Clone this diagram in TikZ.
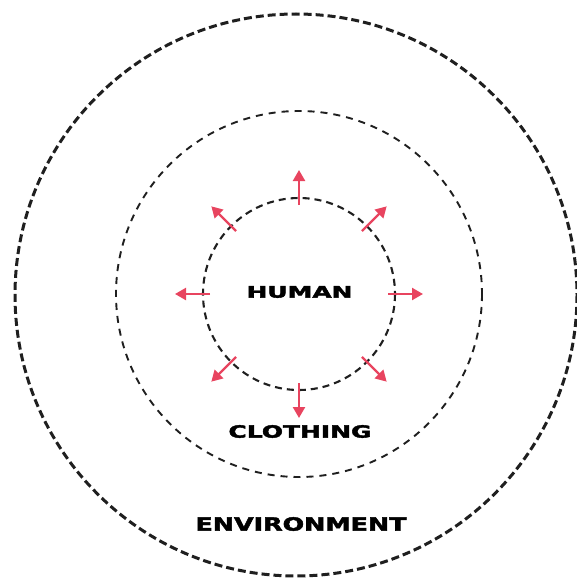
\documentclass[tikz,border=0pt]{standalone}
\usepackage{fontspec}
\setmainfont{DejaVu Sans}
\newfontfamily\heavyfont{DejaVu Sans}[BoldFont={DejaVu Sans Bold},BoldFeatures={FakeBold=2.2}]
\usetikzlibrary{arrows.meta,calc}
\definecolor{arrowred}{HTML}{E8445F}
\begin{document}
\begin{tikzpicture}[x=1pt,y=-1pt,
  ring/.style={draw=black!88},
  outward/.style={draw=arrowred, line width=2.3pt, -{Triangle[length=11pt,width=12pt]}},
  ringtext/.style={inner sep=0pt, text=black}]
\useasboundingbox (0,0) rectangle (577,578);
\coordinate (c) at (299,294);
\coordinate (oc) at (296,295);
% rings
\draw[ring, line width=3pt, dash pattern=on 8pt off 4pt] (oc) circle[radius=281];
\draw[ring, line width=1.9pt, dash pattern=on 7pt off 6pt] (c) circle[radius=183];
\draw[ring, line width=2.1pt, dash pattern=on 7pt off 5pt] (c) circle[radius=96];
% arrows
\foreach \a in {0,45,...,315}{
  \coordinate (s\a) at ($(c)+(\a:89)$);
  \coordinate (t\a) at ($(c)+(\a:124)$);
  \draw[outward] (s\a) -- (t\a);
}
% texts
\node[ringtext] (human) at (299.5,292) {\resizebox{106pt}{11.5pt}{\heavyfont\bfseries HUMAN}};
\node[ringtext] (clothing) at (300,431.5) {\resizebox{143pt}{12.5pt}{\heavyfont\bfseries CLOTHING}};
\node[ringtext] (environment) at (301,524) {\resizebox{211pt}{13.5pt}{\heavyfont\bfseries ENVIRONMENT}};
\end{tikzpicture}
\end{document}
